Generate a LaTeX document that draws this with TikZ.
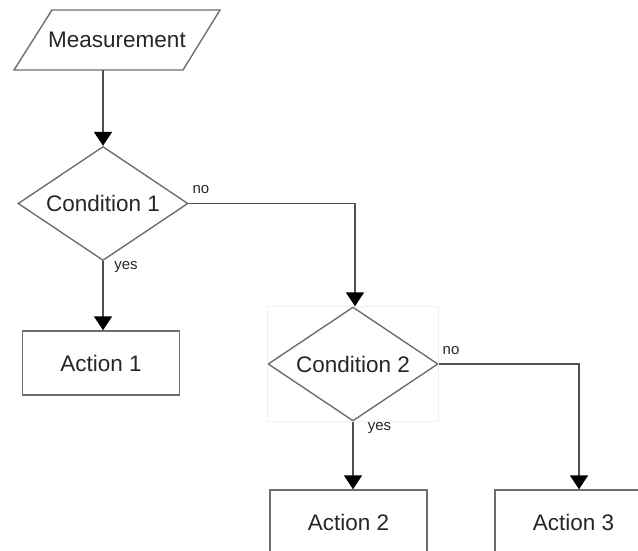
\documentclass[tikz,border=0pt]{standalone}
\usepackage{fontspec}
\setmainfont{Liberation Sans}
\usetikzlibrary{shapes.geometric,arrows.meta}
\definecolor{edgegray}{HTML}{6E6E6E}
\definecolor{linkgray}{HTML}{505050}
\definecolor{textgray}{HTML}{262626}
\begin{document}
\begin{tikzpicture}[x=1pt,y=-1pt,
  every node/.style={text=textgray},
  boxtext/.style={font=\fontsize{22.5}{26}\selectfont},
  decision/.style={diamond,draw=edgegray,line width=1.4pt,boxtext,inner sep=0pt,
                   shape aspect=1.49,minimum width=170pt,minimum height=114pt},
  actionbox/.style={rectangle,draw=edgegray,line width=1.4pt,boxtext,
                    minimum width=157pt,minimum height=64pt},
  iobox/.style={rectangle,boxtext,minimum width=170pt,minimum height=60pt,inner sep=0pt},
  link/.style={draw=linkgray,line width=1.7pt,
               -{Triangle[width=18pt,length=14pt,color=black]}},
  branch/.style={font=\fontsize{15}{17}\selectfont}
]
\useasboundingbox (0,0) rectangle (638,551);
\begin{scope}
\clip (0,0) rectangle (638,551);

% input node: parallelogram outline drawn around its text node
\node[iobox] (meas) at (117,40) {Measurement};
\draw[edgegray,line width=1.4pt]
  (52,10) -- (220,10) -- (183,70) -- (14,70) -- cycle;

% decisions and actions
\node[decision] (c1) at (103,203.5) {Condition 1};
\node[actionbox] (a1) at (101,363) {Action 1};
\node[decision] (c2) at (353,364) {Condition 2};
\draw[black!6,line width=0.6pt] (c2.west |- c2.north) rectangle (c2.east |- c2.south);
\node[actionbox] (a2) at (348.5,522) {Action 2};
\node[actionbox] (a3) at (573.5,522) {Action 3};

% connectors
\draw[link] (c1 |- meas.south) -- (c1.north);
\draw[link] (c1.south) -- (c1.south |- a1.north);
\draw[link] (c1.east) -| ([xshift=2pt]c2.north);
\draw[link] (c2.south) -- (c2.south |- a2.north);
\draw[link] (c2.east) -| ([xshift=5.5pt]a3.north);

% branch labels
\node[branch] (no1) at (201,190) {no};
\node[branch] (yes1) at (126,267) {yes};
\node[branch] (no2) at (451,351) {no};
\node[branch] (yes2) at (379.5,428) {yes};
\end{scope}
\end{tikzpicture}
\end{document}
